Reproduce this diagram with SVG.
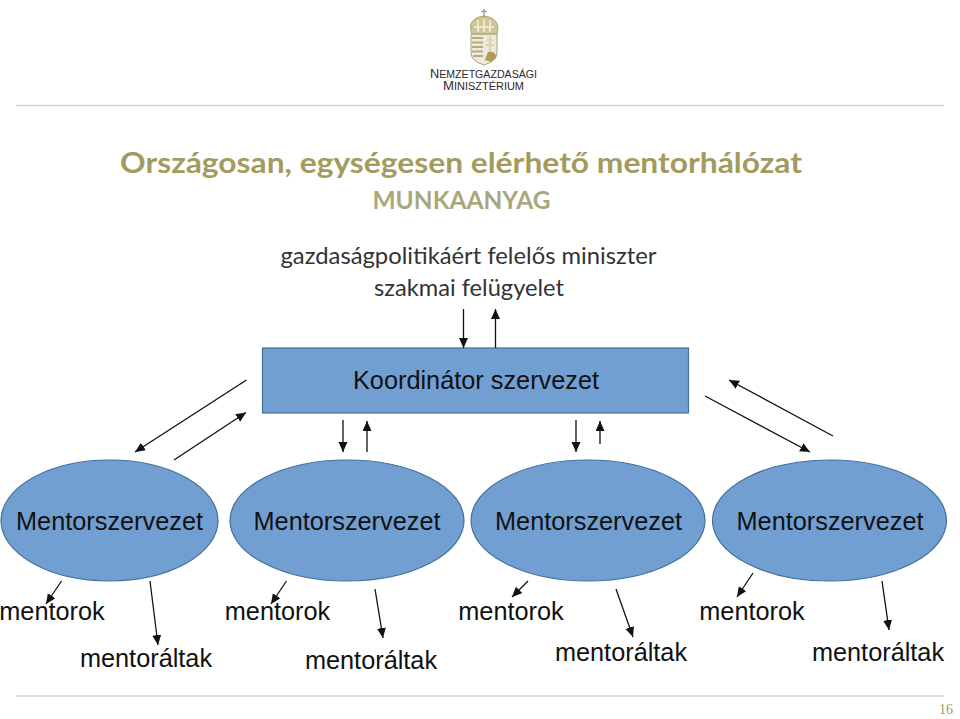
<svg xmlns="http://www.w3.org/2000/svg" width="960" height="719" viewBox="0 0 960 719">
<style>
.t{font-family:"Liberation Sans",Arial,sans-serif;fill:#111}
.m{font-size:25.300px}
.l{font-family:Lato,"Open Sans",sans-serif}
.g{fill:#a39b5e}
.c{stroke:#111;stroke-width:1.3;fill:none;marker-end:url(#a)}
.n{fill:#729fd2;stroke:#41719c;stroke-width:1.2}
.lg{font-family:"Liberation Sans",sans-serif;fill:#2a2a2a}
</style>
<defs><marker id="a" markerUnits="userSpaceOnUse" markerWidth="12" markerHeight="10" refX="10" refY="4.500" orient="auto"><path d="M0 0L10 4.500L0 9z" fill="#111"/></marker></defs>
<rect width="960" height="719" fill="#fff"/>
<g id="logo">
<path d="M471 34h26v19q0 8-13 12q-13-4-13-12z" fill="#ecead8" stroke="#a8a47c"/>
<path d="M472 34q-4-11 3-15q9-6 18 0q7 4 4 15z" fill="#d0c596" stroke="#a8a47c"/>
<path d="M474 27h20M478 20v12M484 19v13M490 20v12" stroke="#f3efdd" stroke-width="1.500"/>
<path d="M484 9v9M481 11.500h6" stroke="#a8a47c" stroke-width="1.500"/>
<path d="M472 38h11M472 42.500h11M472 47h11M472 51.500h11M473 56h10" stroke="#b5a98a" stroke-width="2"/>
<path d="M490 36v16M487 40h6M486 45h8" stroke="#d8d2b4" stroke-width="2"/>
<path d="M485 60l3-8h5l3 3v3l-5 4z" fill="#b09a5a"/>
<text class="lg" x="430" y="78" font-size="10" textLength="107" lengthAdjust="spacingAndGlyphs"><tspan font-size="12">N</tspan>EMZETGAZDASÁGI</text>
<text class="lg" x="443" y="90" font-size="10" textLength="81" lengthAdjust="spacingAndGlyphs"><tspan font-size="12">M</tspan>INISZTÉRIUM</text>
</g>
<path d="M16 105.500H944M16 696H944" stroke="#d6d6c2" stroke-width="1.500"/>
<text class="l g" x="461" y="173" font-size="28" font-weight="700" text-anchor="middle" textLength="682" lengthAdjust="spacingAndGlyphs">Országosan, egységesen elérhető mentorhálózat</text>
<text class="l" x="461.500" y="209" font-size="24" font-weight="700" fill="#a8a87c" text-anchor="middle" textLength="178" lengthAdjust="spacingAndGlyphs">MUNKAANYAG</text>
<text class="l" x="468.500" y="264" font-size="23" fill="#333" text-anchor="middle" textLength="376" lengthAdjust="spacingAndGlyphs">gazdaságpolitikáért felelős miniszter</text>
<text class="l" x="469" y="296" font-size="23" fill="#333" text-anchor="middle" textLength="190" lengthAdjust="spacingAndGlyphs">szakmai felügyelet</text>
<g id="koordinator"><rect class="n" x="262.500" y="348" width="426" height="65"/><text class="t m" x="476" y="389" text-anchor="middle">Koordinátor szervezet</text></g>
<g id="m1"><ellipse class="n" cx="109.500" cy="520.500" rx="108.500" ry="60.500"/><text class="t m" x="109.500" y="530" text-anchor="middle">Mentorszervezet</text></g>
<g id="m2"><ellipse class="n" cx="347" cy="520.500" rx="117" ry="60.500"/><text class="t m" x="347" y="530" text-anchor="middle">Mentorszervezet</text></g>
<g id="m3"><ellipse class="n" cx="588" cy="520.500" rx="117" ry="60.500"/><text class="t m" x="588.500" y="530" text-anchor="middle">Mentorszervezet</text></g>
<g id="m4"><ellipse class="n" cx="829.500" cy="520.500" rx="117" ry="60.500"/><text class="t m" x="830" y="530" text-anchor="middle">Mentorszervezet</text></g>
<g id="labels">
<text class="t m" x="52" y="620" text-anchor="middle">mentorok</text>
<text class="t m" x="146" y="667" text-anchor="middle">mentoráltak</text>
<text class="t m" x="277.500" y="620" text-anchor="middle">mentorok</text>
<text class="t m" x="371" y="669" text-anchor="middle">mentoráltak</text>
<text class="t m" x="511" y="620" text-anchor="middle">mentorok</text>
<text class="t m" x="621" y="661" text-anchor="middle">mentoráltak</text>
<text class="t m" x="752" y="620" text-anchor="middle">mentorok</text>
<text class="t m" x="878" y="661" text-anchor="middle">mentoráltak</text>
</g>
<g id="connectors">
<path class="c" d="M463.500 309V348"/>
<path class="c" d="M495.500 348V309"/>
<path class="c" d="M246.500 380L135 452"/>
<path class="c" d="M174 460L246 412.500"/>
<path class="c" d="M343 420V452"/>
<path class="c" d="M367 452V421"/>
<path class="c" d="M576 420V452"/>
<path class="c" d="M600 444V421"/>
<path class="c" d="M705 396L810 452"/>
<path class="c" d="M833 436L729 380"/>
<path class="c" d="M61.500 581L46 604"/>
<path class="c" d="M150 581L158 645"/>
<path class="c" d="M286.500 581L271 604"/>
<path class="c" d="M375 589L383 638"/>
<path class="c" d="M528 581L512 597"/>
<path class="c" d="M616 589L633 637"/>
<path class="c" d="M753 573L737 597"/>
<path class="c" d="M882 581L889 630"/>
</g>
<text x="946" y="714" font-family="Liberation Serif,serif" font-size="14" fill="#a09a70" text-anchor="middle">16</text>
</svg>
